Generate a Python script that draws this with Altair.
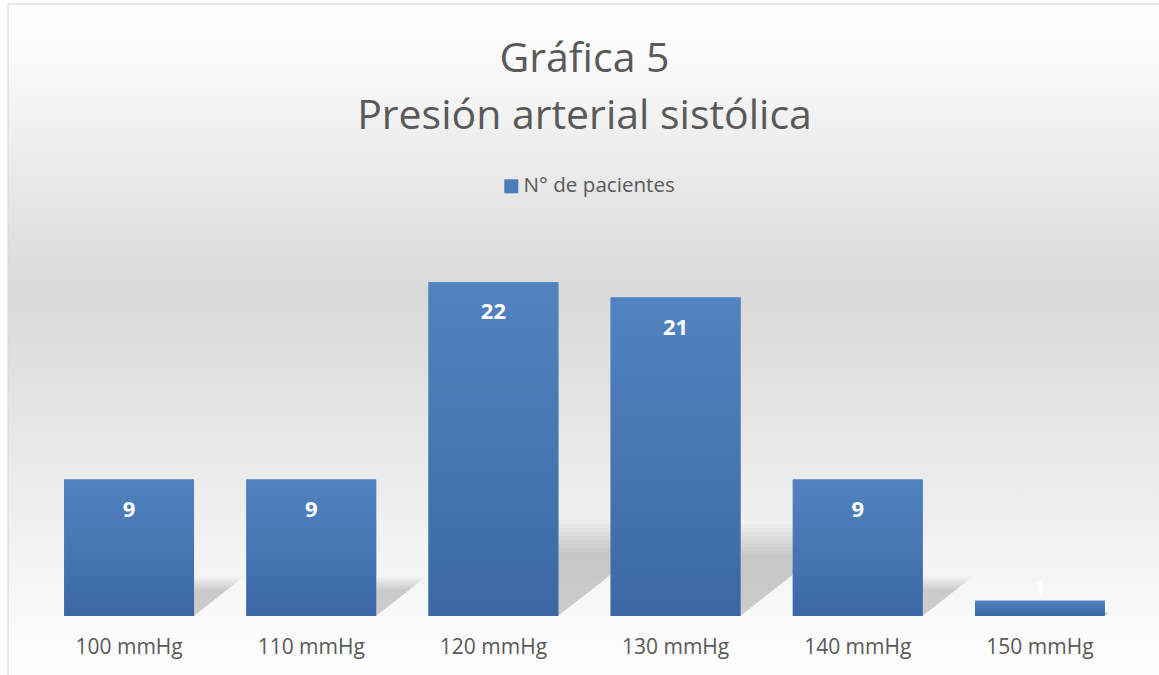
import altair as alt
import pandas as pd

# Systolic blood pressure groups and number of patients in each
categories = ["100 mmHg", "110 mmHg", "120 mmHg", "130 mmHg", "140 mmHg", "150 mmHg"]
patients = [9, 9, 22, 21, 9, 1]
series_name = "N° de pacientes"
chart_title = ["Gráfica 5", "Presión arterial sistólica"]

TEXT = "#595959"
FONT = "Open Sans"
BAND = 0.713          # bar width as a fraction of the category step
Y_MAX = 24

df = pd.DataFrame({"rango": categories, "pacientes": patients, "serie": series_name})

# Soft perspective shadow cast to the lower right of each bar,
# built as several stacked translucent triangles to fake a blur.
blur_scales = [0.80, 0.85, 0.90, 0.95, 1.00, 1.05, 1.10, 1.15, 1.20]
BLUR_OPACITY = 0.021
shadow_rows = []
for lvl, k in enumerate(blur_scales):
    for i, (cat, v) in enumerate(zip(categories, patients)):
        xr = i + 0.5 + BAND / 2
        s = 0.24 * v * k
        dx = 0.0254 * v * k
        shadow_rows.append({"rango": cat, "nivel": lvl, "sx": xr, "top": s, "bottom": 0.0})
        shadow_rows.append({"rango": cat, "nivel": lvl, "sx": xr + dx, "top": s, "bottom": s})
shadows_df = pd.DataFrame(shadow_rows)

y_scale = alt.Scale(domain=[0, Y_MAX])

# Chart-area background: white fading to grey and back to white
background = alt.Chart(pd.DataFrame({"k": [0]})).mark_rect(
    color={
        "gradient": "linear", "x1": 0, "y1": 0, "x2": 0, "y2": 1,
        "stops": [
            {"offset": 0.0, "color": "#ffffff"},
            {"offset": 0.08, "color": "#fafafa"},
            {"offset": 0.42, "color": "#d9d9d9"},
            {"offset": 0.93, "color": "#fcfcfc"},
            {"offset": 1.0, "color": "#ffffff"},
        ],
    },
    stroke="#d9d9d9",
    strokeWidth=1.2,
).encode(
    x=alt.value(-30), x2=alt.value(1130),
    y=alt.value(-248), y2=alt.value(440),
)

shadow_layers = []
for lvl in range(len(blur_scales)):
    shadow_layers.append(
        alt.Chart(shadows_df).transform_filter(alt.datum.nivel == lvl).mark_area(
            color="#000000", opacity=BLUR_OPACITY, interpolate="linear"
        ).encode(
            x=alt.X("sx:Q", scale=alt.Scale(domain=[0, len(categories)], nice=False, zero=False), axis=None),
            y=alt.Y("top:Q", scale=y_scale, axis=None, stack=None),
            y2="bottom:Q",
            detail="rango:N",
        )
    )
shadows = alt.layer(*shadow_layers)

x_enc = alt.X(
    "rango:N",
    sort=categories,
    scale=alt.Scale(paddingInner=1 - BAND, paddingOuter=(1 - BAND) / 2),
    axis=alt.Axis(
        title=None, labelAngle=0, domain=False, ticks=False, grid=False,
        labelFont=FONT, labelFontSize=21, labelColor=TEXT, labelPadding=20, zindex=1,
    ),
)
y_enc = alt.Y("pacientes:Q", scale=y_scale, axis=None)

base = alt.Chart(df)

# solid bars carry the legend entry
legend_bars = base.mark_bar().encode(
    x=x_enc, y=y_enc,
    color=alt.Color(
        "serie:N",
        scale=alt.Scale(range=["#4a7dba"]),
        legend=alt.Legend(
            title=None, orient="none", legendX=463, legendY=-76, direction="horizontal",
            symbolType="square", symbolSize=196, symbolStrokeWidth=0,
            labelFont=FONT, labelFontSize=20.6, labelColor=TEXT, labelOffset=2, padding=0, zindex=1,
        ),
    ),
)

# bars with the vertical gradient fill
gradient_bars = base.mark_bar(
    color={
        "gradient": "linear", "x1": 0, "y1": 0, "x2": 0, "y2": 1,
        "stops": [
            {"offset": 0.0, "color": "#5083c0"},
            {"offset": 0.45, "color": "#4878b4"},
            {"offset": 1.0, "color": "#3b68a2"},
        ],
    }
).encode(x=x_enc, y=y_enc)

labels_inside = base.transform_filter(alt.datum.pacientes >= 3).mark_text(
    dy=30, baseline="middle", color="white", font=FONT, fontWeight="bold", fontSize=22
).encode(x=x_enc, y=y_enc, text="pacientes:Q")

labels_above = base.transform_filter(alt.datum.pacientes < 3).mark_text(
    dy=-13, baseline="middle", color="white", font=FONT, fontWeight="bold", fontSize=22
).encode(x=x_enc, y=y_enc, text="pacientes:Q")

main = alt.layer(legend_bars, gradient_bars, labels_inside, labels_above)

chart = alt.layer(background, shadows, main).resolve_scale(x="independent").properties(
    width=1093,
    height=364,
    title=alt.TitleParams(
        text=chart_title, font=FONT, fontSize=41, fontWeight="normal", color=TEXT,
        lineHeight=57, anchor="middle", offset=-135, zindex=1,
    ),
    autosize=alt.AutoSizeParams(type="none"),
    padding={"left": 38, "top": 252, "right": 28, "bottom": 59},
).configure_view(stroke=None).configure(background="#ffffff")

chart.save("out.html", embed_options={"renderer": "svg", "actions": False})
